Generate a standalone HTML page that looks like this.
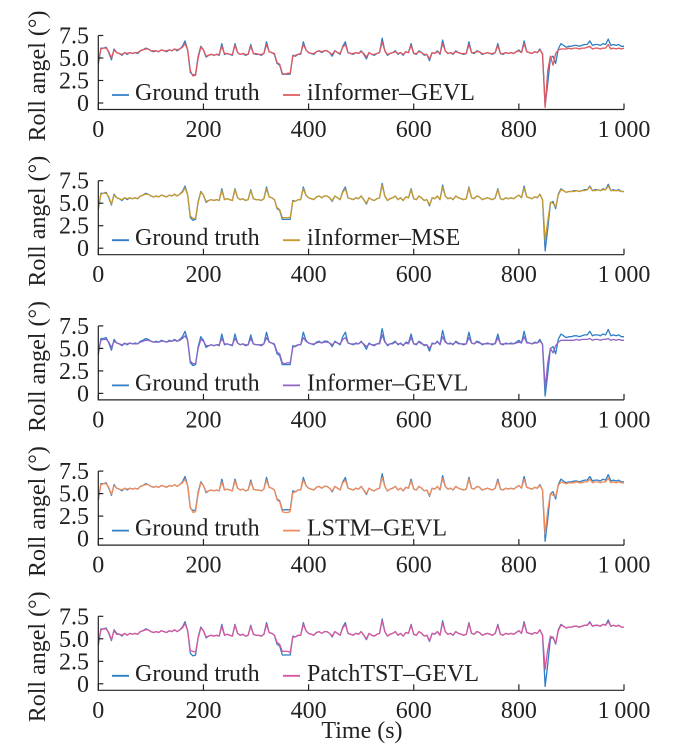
<!DOCTYPE html>
<html><head><meta charset="utf-8">
<style>
html,body{margin:0;padding:0;background:#fff;}
svg{display:block;}
svg text{font-family:"Liberation Serif","Times New Roman",serif;}
</style></head>
<body>
<svg id="chart" width="681" height="756" viewBox="0 0 681 756" xmlns="http://www.w3.org/2000/svg"></svg>
<script>
// ---- data (sampled every 5 s, 0..1000) ----
const timeStep = 5;
const xTicks = [0, 200, 400, 600, 800, 1000];
const xTickLabels = ["0", "200", "400", "600", "800", "1\u2009000"];
const yTicks = [0, 2.5, 5.0, 7.5];
const yTickLabels = ["0", "2.5", "5.0", "7.5"];
const modelNames = ["iInformer\u2013GEVL", "iInformer\u2013MSE", "Informer\u2013GEVL", "LSTM\u2013GEVL", "PatchTST\u2013GEVL"];

const groundTruth = [4.3,6.1,6.1,6.2,5.6,4.8,6.0,5.6,5.5,5.3, 5.6,5.4,5.6,5.5,5.6,5.5,5.8,5.9,6.1,6.0, 5.8,5.7,5.8,5.7,5.9,5.8,5.7,5.9,5.8,6.0, 5.8,6.0,6.3,6.9,5.9,3.4,3.1,3.2,5.2,6.3, 5.9,5.1,5.3,5.4,5.3,5.4,5.3,6.6,5.4,5.5, 5.4,5.3,6.6,5.6,5.4,5.5,5.3,5.4,6.5,5.5, 5.4,5.4,5.3,5.5,6.8,5.7,5.6,5.4,4.4,4.2, 3.2,3.2,3.2,3.2,5.3,5.2,5.4,5.4,6.8,5.9, 5.6,5.5,5.4,5.7,5.8,5.6,5.8,5.8,5.6,5.2, 5.8,5.6,5.4,6.3,6.8,5.6,5.5,5.4,5.6,5.5, 5.8,5.4,4.9,5.6,5.4,5.3,5.5,5.6,7.2,5.8, 5.3,5.5,5.6,5.8,5.4,5.6,5.3,5.7,5.6,6.6, 5.5,5.4,5.8,5.6,5.3,5.4,4.7,5.6,5.5,5.8, 5.4,7.0,5.8,5.5,5.6,5.4,5.8,5.6,5.5,5.4, 5.5,6.8,5.6,5.5,5.8,5.7,5.4,5.5,5.6,5.5, 5.4,5.6,6.6,5.5,5.4,5.6,5.5,5.6,5.5,5.7, 5.9,5.6,6.9,5.7,5.6,5.5,5.7,5.6,6.0,5.4, -0.3,2.2,5.0,5.2,4.4,6.0,6.6,6.4,6.2,6.3, 6.3,6.4,6.4,6.3,6.4,6.5,6.5,6.9,6.4,6.5, 6.5,6.4,6.6,6.5,7.1,6.4,6.5,6.4,6.5,6.3, 6.3];

const predIInformerGEVL = [4.6,6.0,6.1,6.1,5.7,5.0,5.9,5.6,5.5,5.4, 5.6,5.5,5.6,5.5,5.6,5.6,5.8,5.9,6.0,6.0, 5.8,5.8,5.8,5.7,5.9,5.8,5.8,5.9,5.8,6.0, 5.9,6.0,6.2,6.6,5.9,3.6,3.0,3.1,5.0,6.2, 5.9,5.2,5.3,5.4,5.3,5.4,5.4,6.3,5.5,5.5, 5.4,5.4,6.4,5.6,5.4,5.5,5.4,5.4,6.3,5.5, 5.5,5.4,5.4,5.5,6.5,5.7,5.6,5.5,4.5,4.3, 3.3,3.2,3.3,3.3,5.2,5.3,5.4,5.5,6.5,5.9, 5.6,5.5,5.5,5.7,5.8,5.7,5.8,5.8,5.6,5.4, 5.8,5.6,5.5,6.2,6.5,5.6,5.5,5.5,5.6,5.5, 5.7,5.5,5.1,5.6,5.4,5.4,5.5,5.6,6.8,5.8, 5.4,5.5,5.6,5.7,5.5,5.6,5.4,5.7,5.6,6.4, 5.5,5.5,5.7,5.6,5.4,5.4,4.9,5.6,5.5,5.7, 5.5,6.6,5.8,5.5,5.6,5.5,5.7,5.6,5.5,5.5, 5.5,6.5,5.6,5.6,5.7,5.7,5.5,5.5,5.6,5.5, 5.5,5.6,6.4,5.5,5.5,5.6,5.5,5.6,5.5,5.7, 5.8,5.6,6.6,5.7,5.6,5.5,5.7,5.6,5.9,5.5, -0.5,3.6,5.2,4.2,5.5,5.9,6.0,6.0,6.0,6.1, 6.0,6.1,6.1,6.0,6.1,6.1,6.2,6.3,6.0,6.1, 6.1,6.0,6.1,6.1,6.5,6.0,6.1,6.0,6.1,6.0, 6.1];

const predIInformerMSE = [4.5,6.0,6.1,6.1,5.7,4.9,5.9,5.6,5.5,5.4, 5.6,5.5,5.6,5.5,5.6,5.5,5.8,5.9,6.0,6.0, 5.8,5.7,5.8,5.7,5.9,5.8,5.7,5.9,5.8,6.0, 5.8,6.0,6.2,6.7,5.9,3.6,3.3,3.3,5.1,6.2, 5.9,5.2,5.3,5.4,5.3,5.4,5.3,6.4,5.4,5.5, 5.4,5.3,6.5,5.6,5.4,5.5,5.3,5.4,6.4,5.5, 5.4,5.4,5.3,5.5,6.6,5.7,5.6,5.4,4.5,4.3, 3.4,3.4,3.4,3.4,5.2,5.2,5.4,5.4,6.6,5.9, 5.6,5.5,5.4,5.7,5.8,5.6,5.8,5.8,5.6,5.3, 5.8,5.6,5.4,6.2,6.6,5.6,5.5,5.4,5.6,5.5, 5.8,5.4,5.0,5.6,5.4,5.3,5.5,5.6,7.0,5.8, 5.3,5.5,5.6,5.8,5.4,5.6,5.3,5.7,5.6,6.5, 5.5,5.4,5.8,5.6,5.3,5.4,4.8,5.6,5.5,5.8, 5.4,6.8,5.8,5.5,5.6,5.4,5.8,5.6,5.5,5.4, 5.5,6.7,5.6,5.5,5.8,5.7,5.4,5.5,5.6,5.5, 5.4,5.6,6.5,5.5,5.4,5.6,5.5,5.6,5.5,5.7, 5.9,5.6,6.7,5.7,5.6,5.5,5.7,5.6,6.0,5.4, 0.9,3.0,5.1,5.0,4.6,5.9,6.5,6.4,6.2,6.3, 6.3,6.3,6.4,6.3,6.4,6.4,6.5,6.8,6.4,6.4, 6.5,6.4,6.5,6.5,6.9,6.4,6.4,6.4,6.4,6.3, 6.3];

const predInformerGEVL = [4.7,5.9,6.0,6.0,5.7,5.1,5.8,5.6,5.5,5.4, 5.5,5.5,5.6,5.5,5.5,5.5,5.7,5.8,5.9,5.9, 5.8,5.7,5.7,5.7,5.8,5.8,5.7,5.8,5.8,5.9, 5.8,5.9,6.1,6.4,5.9,3.6,3.3,3.3,5.0,6.0, 5.8,5.3,5.3,5.4,5.3,5.4,5.4,6.1,5.5,5.5, 5.4,5.4,6.1,5.6,5.4,5.5,5.4,5.4,6.1,5.5, 5.4,5.4,5.4,5.5,6.2,5.7,5.6,5.5,4.6,4.4, 3.4,3.3,3.4,3.4,5.1,5.3,5.4,5.4,6.2,5.8, 5.6,5.5,5.5,5.6,5.7,5.6,5.7,5.7,5.6,5.4, 5.7,5.6,5.5,6.0,6.2,5.6,5.5,5.5,5.5,5.5, 5.7,5.5,5.2,5.5,5.4,5.4,5.5,5.5,6.5,5.7, 5.4,5.5,5.5,5.7,5.5,5.5,5.4,5.6,5.5,6.2, 5.5,5.5,5.7,5.5,5.4,5.4,5.0,5.5,5.5,5.7, 5.5,6.3,5.7,5.5,5.5,5.5,5.7,5.5,5.5,5.5, 5.5,6.2,5.6,5.5,5.7,5.6,5.5,5.5,5.5,5.5, 5.5,5.5,6.2,5.5,5.5,5.5,5.5,5.5,5.5,5.6, 5.7,5.6,6.3,5.6,5.6,5.5,5.6,5.6,5.8,5.5, 0.6,3.4,5.0,4.5,5.3,5.7,5.9,5.9,5.9,5.9, 5.9,5.9,6.0,5.9,6.0,6.0,6.0,6.1,5.9,6.0, 6.0,5.9,6.0,6.0,6.1,5.9,6.0,5.9,6.0,5.9, 5.9];

const predLSTMGEVL = [4.4,6.0,6.1,6.1,5.7,4.9,5.9,5.6,5.5,5.4, 5.6,5.5,5.6,5.5,5.6,5.5,5.8,5.9,6.0,6.0, 5.8,5.7,5.8,5.7,5.9,5.8,5.7,5.9,5.8,6.0, 5.8,6.0,6.2,6.6,5.9,3.5,2.9,3.0,5.0,6.2, 5.9,5.2,5.3,5.4,5.3,5.4,5.3,6.3,5.4,5.5, 5.4,5.3,6.4,5.6,5.4,5.5,5.3,5.4,6.3,5.5, 5.4,5.4,5.3,5.5,6.5,5.7,5.6,5.4,4.3,4.1, 3.0,2.9,2.9,3.0,5.1,5.2,5.4,5.4,6.5,5.9, 5.6,5.5,5.4,5.7,5.8,5.6,5.8,5.8,5.6,5.3, 5.8,5.6,5.4,6.2,6.5,5.6,5.5,5.4,5.6,5.5, 5.8,5.4,5.0,5.6,5.4,5.3,5.5,5.6,6.8,5.8, 5.3,5.5,5.6,5.8,5.4,5.6,5.3,5.7,5.6,6.4, 5.5,5.4,5.8,5.6,5.3,5.4,4.8,5.6,5.5,5.8, 5.4,6.7,5.8,5.5,5.6,5.4,5.8,5.6,5.5,5.4, 5.5,6.6,5.6,5.5,5.8,5.7,5.4,5.5,5.6,5.5, 5.4,5.6,6.4,5.5,5.4,5.6,5.5,5.6,5.5,5.7, 5.9,5.6,6.6,5.7,5.6,5.5,5.7,5.6,5.9,5.4, 0.5,3.2,5.0,4.8,4.7,5.9,6.3,6.2,6.1,6.2, 6.2,6.2,6.3,6.2,6.2,6.3,6.3,6.6,6.2,6.3, 6.3,6.2,6.3,6.3,6.7,6.2,6.3,6.2,6.3,6.2, 6.2];

const predPatchTSTGEVL = [4.6,6.0,6.1,6.1,5.7,4.9,5.9,5.5,5.5,5.4, 5.6,5.4,5.6,5.5,5.6,5.5,5.8,5.9,6.0,6.0, 5.8,5.7,5.8,5.7,5.9,5.8,5.7,5.9,5.8,6.0, 5.8,6.0,6.2,6.7,5.9,3.7,3.6,3.5,5.1,6.2, 5.9,5.2,5.3,5.4,5.3,5.4,5.3,6.4,5.4,5.5, 5.4,5.3,6.5,5.6,5.4,5.5,5.3,5.4,6.4,5.5, 5.4,5.4,5.3,5.5,6.6,5.7,5.6,5.4,4.6,4.4, 3.6,3.6,3.6,3.5,5.2,5.2,5.4,5.4,6.6,5.9, 5.6,5.5,5.4,5.7,5.8,5.6,5.8,5.8,5.6,5.3, 5.8,5.6,5.4,6.2,6.6,5.6,5.5,5.4,5.6,5.5, 5.8,5.4,5.0,5.6,5.4,5.3,5.5,5.6,7.0,5.8, 5.3,5.5,5.6,5.8,5.4,5.6,5.3,5.7,5.6,6.5, 5.5,5.4,5.8,5.6,5.3,5.4,4.8,5.6,5.5,5.8, 5.4,6.8,5.8,5.5,5.6,5.4,5.8,5.6,5.5,5.4, 5.5,6.7,5.6,5.5,5.8,5.7,5.4,5.5,5.6,5.5, 5.4,5.6,6.5,5.5,5.4,5.6,5.5,5.6,5.5,5.7, 5.9,5.6,6.7,5.7,5.6,5.5,5.7,5.6,6.0,5.4, 1.6,3.8,5.3,5.1,4.5,5.9,6.5,6.4,6.2,6.3, 6.3,6.4,6.4,6.3,6.4,6.5,6.5,6.8,6.4,6.5, 6.5,6.4,6.6,6.5,6.9,6.4,6.5,6.4,6.5,6.3, 6.3];

const predictions = [predIInformerGEVL, predIInformerMSE, predInformerGEVL, predLSTMGEVL, predPatchTSTGEVL];
const predColors = ["#e0575f", "#c99a2e", "#8e66c4", "#f28b5a", "#d9579e"];
const gtColor = "#2f7ec6";

// ---- layout ----
const NS = "http://www.w3.org/2000/svg";
const svg = document.getElementById("chart");
const FONT = '"Liberation Serif", "Times New Roman", serif';
const X0 = 98.3, X1 = 624;
const PANEL_DY = 145.2;
const ZERO_Y = 103, UNIT = 9.0, AXIS_Y = 109.5;
function xScale(t){ return X0 + (t/1000)*(X1-X0); }
function yScale(v, i){ return i*PANEL_DY + ZERO_Y - v*UNIT; }

function mk(tag, attrs, parent){
  const e = document.createElementNS(NS, tag);
  for (const k in attrs) e.setAttribute(k, attrs[k]);
  if (tag === "text") e.setAttribute("font-family", FONT);
  (parent||svg).appendChild(e);
  return e;
}
function pathFor(arr, i){
  let d = "";
  arr.forEach((v, k) => { d += (k ? "L" : "M") + xScale(k*timeStep).toFixed(2) + "," + yScale(v, i).toFixed(2); });
  return d;
}

for (let i = 0; i < 5; i++){
  const g = mk("g", {});
  
  
  const base = i*PANEL_DY;
  const top = yScale(7.5, i);
  const ay = base + AXIS_Y;

  const yl = mk("text", {x:0, y:0, transform:"translate(45," + (base+76) + ") rotate(-90)", "text-anchor":"middle", "font-size":"24", fill:"#222"}, g);
  yl.textContent = "Roll angel (\u00b0)";
  
  

  const gt = mk("path", {d:pathFor(groundTruth, i), fill:"none", stroke:gtColor, "stroke-width":"1.3", "stroke-linejoin":"round"}, g);
  
  
  const pr = mk("path", {d:pathFor(predictions[i], i), fill:"none", stroke:predColors[i], "stroke-width":"1.3", "stroke-linejoin":"round"}, g);
  
  

  const ax = mk("path", {d:"M" + X0 + "," + top + "V" + ay + "H" + X1, fill:"none", stroke:"#222", "stroke-width":"1.2"}, g);
  
  

  yTicks.forEach((v, k) => {
    const y = yScale(v, i);
    const tk = mk("line", {x1:X0, x2:X0+5, y1:y, y2:y, stroke:"#222", "stroke-width":"1.2"}, g);
    
    
    const tl = mk("text", {x:89, y:y+8, "text-anchor":"end", "font-size":"24", fill:"#222"}, g);
    tl.textContent = yTickLabels[k];
    
    
  });
  xTicks.forEach((t, k) => {
    const x = xScale(t);
    const tk = mk("line", {x1:x, x2:x, y1:ay, y2:ay-6, stroke:"#222", "stroke-width":"1.2"}, g);
    
    
    const tl = mk("text", {x:x, y:base+137, "text-anchor":"middle", "font-size":"24", fill:"#222"}, g);
    tl.textContent = xTickLabels[k];
    
    
  });

  const lg = mk("g", {}, g);
  
  
  const l1 = mk("line", {x1:112, x2:129, y1:base+95, y2:base+95, stroke:gtColor, "stroke-width":"1.8"}, lg);
  
  
  const t1 = mk("text", {x:135, y:base+100, "font-size":"24", fill:"#222"}, lg);
  t1.textContent = "Ground truth";
  
  
  const l2 = mk("line", {x1:283, x2:300, y1:base+95, y2:base+95, stroke:predColors[i], "stroke-width":"1.8"}, lg);
  
  
  const t2 = mk("text", {x:307, y:base+100, "font-size":"24", fill:"#222"}, lg);
  t2.textContent = modelNames[i];
  
  
}

const xt = mk("text", {x:362, y:738, "text-anchor":"middle", "font-size":"24", fill:"#222"});
xt.textContent = "Time (s)";


</script>
</body></html>
